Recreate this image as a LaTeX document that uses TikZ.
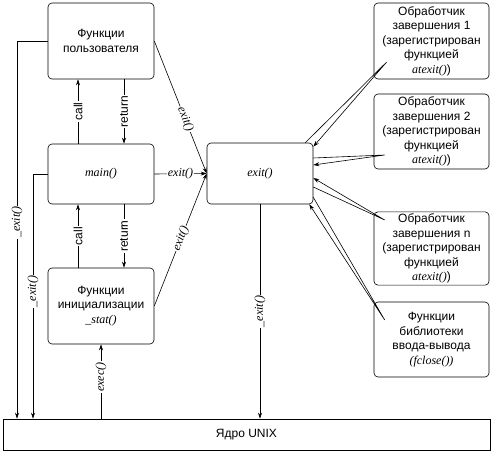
\documentclass[tikz,border=0pt]{standalone}
\usepackage{fontspec}
\setmainfont{Liberation Sans}
\newfontfamily\serifit{Liberation Serif}
\usetikzlibrary{positioning, calc, arrows.meta}
\newcommand{\fn}[1]{{\serifit\itshape #1}}

\begin{document}
\begin{tikzpicture}[x=1pt, y=1pt, line width=0.6pt,
    >={Stealth[length=6pt,width=4pt]},
    box/.style={draw, rounded corners=4pt, align=center, inner sep=2pt,
      font=\fontsize{12}{14.5}\selectfont},
    lbl/.style={fill=white, inner sep=1pt, font=\fontsize{12}{14}\selectfont}]
      \useasboundingbox (0,0) rectangle (496,456);

      \node[box, minimum width=106pt, minimum height=76pt] (user) at (101,415) {Функции\\пользователя};
      \node[box, minimum width=106pt, minimum height=60pt] (main) at (101,282) {\fn{main()}};
      \node[box, minimum width=106pt, minimum height=76pt] (init) at (101,150) {Функции\\инициализации\\\fn{\_stat()}};
      \node[box, minimum width=106pt, minimum height=61pt] (exit) at (260,282.5) {\fn{exit()}};

      \node[box, minimum width=115pt, minimum height=76pt] (h1) at (431.5,415) {Обработчик\\завершения 1\\(зарегистрирован\\функцией\\\fn{atexit()})};
      \node[box, minimum width=115pt, minimum height=75pt] (h2) at (431.5,324.5) {Обработчик\\завершения 2\\(зарегистрирован\\функцией\\\fn{atexit()})};
      \node[box, minimum width=115pt, minimum height=72pt] (hn) at (431.5,207.5) {Обработчик\\завершения n\\(зарегистрирован\\функцией\\\fn{atexit()})};
      \node[box, minimum width=115pt, minimum height=75pt] (lib) at (431.5,116.5) {Функции\\библиотеки\\ввода-вывода\\\fn{(fclose())}};

      \node[box, rounded corners=0pt, minimum width=487pt, minimum height=31pt] (kernel) at (246.5,21.5) {Ядро UNIX};

      \coordinate (k1) at (17,0);
      \coordinate (k2) at (33,0);
      \coordinate (cx) at (78,0);
      \coordinate (rx) at (124,0);

      \draw[->] (user.west) -| (k1 |- kernel.north) node[lbl, rotate=90, pos=0.74] {\fn{\_exit()}};
      \draw[->] (main.west) -| (k2 |- kernel.north) node[lbl, rotate=90, pos=0.74] {\fn{\_exit()}};

      \draw[->] (cx |- main.north) -- node[lbl, rotate=90] {call} (cx |- user.south);
      \draw[->] (rx |- user.south) -- node[lbl, rotate=90] {return} (rx |- main.north);
      \draw[->] (cx |- init.north) -- node[lbl, rotate=90] {call} (cx |- main.south);
      \draw[->] (rx |- main.south) -- node[lbl, rotate=90] {return} (rx |- init.north);
      \draw[->] (kernel.north -| init.south) -- node[lbl, rotate=90, pos=0.56] {\fn{exec()}} (init.south);

      \draw[->] (user.east) -- node[lbl, sloped, pos=0.59] {\fn{exit()}} (exit.west);
      \draw[->] (main.east) -- node[lbl] {\fn{exit()}} (exit.west);
      \draw[->] (init.east) -- node[lbl, sloped, pos=0.51] {\fn{exit()}} (exit.west);
      \draw[->] (exit.south) -- node[lbl, rotate=90] {\fn{\_exit()}} (kernel.north -| exit.south);

      \draw[->] ([xshift=-8pt]exit.north east) -- ([shift={(13,-21)}]h1.west) -- ([yshift=-4pt]exit.north east);
      \draw[->] ([yshift=15.5pt]exit.east) -- ([shift={(11,-23.5)}]h2.west) -- ([yshift=8.5pt]exit.east);
      \draw[->] ([yshift=-13.5pt]exit.east) -- ([shift={(11,28.5)}]hn.west) -- ([yshift=-4.5pt]exit.east);
      \draw[->] ([yshift=7pt]exit.south east) -- ([shift={(11,19.5)}]lib.west) -- ([xshift=-4pt]exit.south east);
    \end{tikzpicture}
\end{document}
